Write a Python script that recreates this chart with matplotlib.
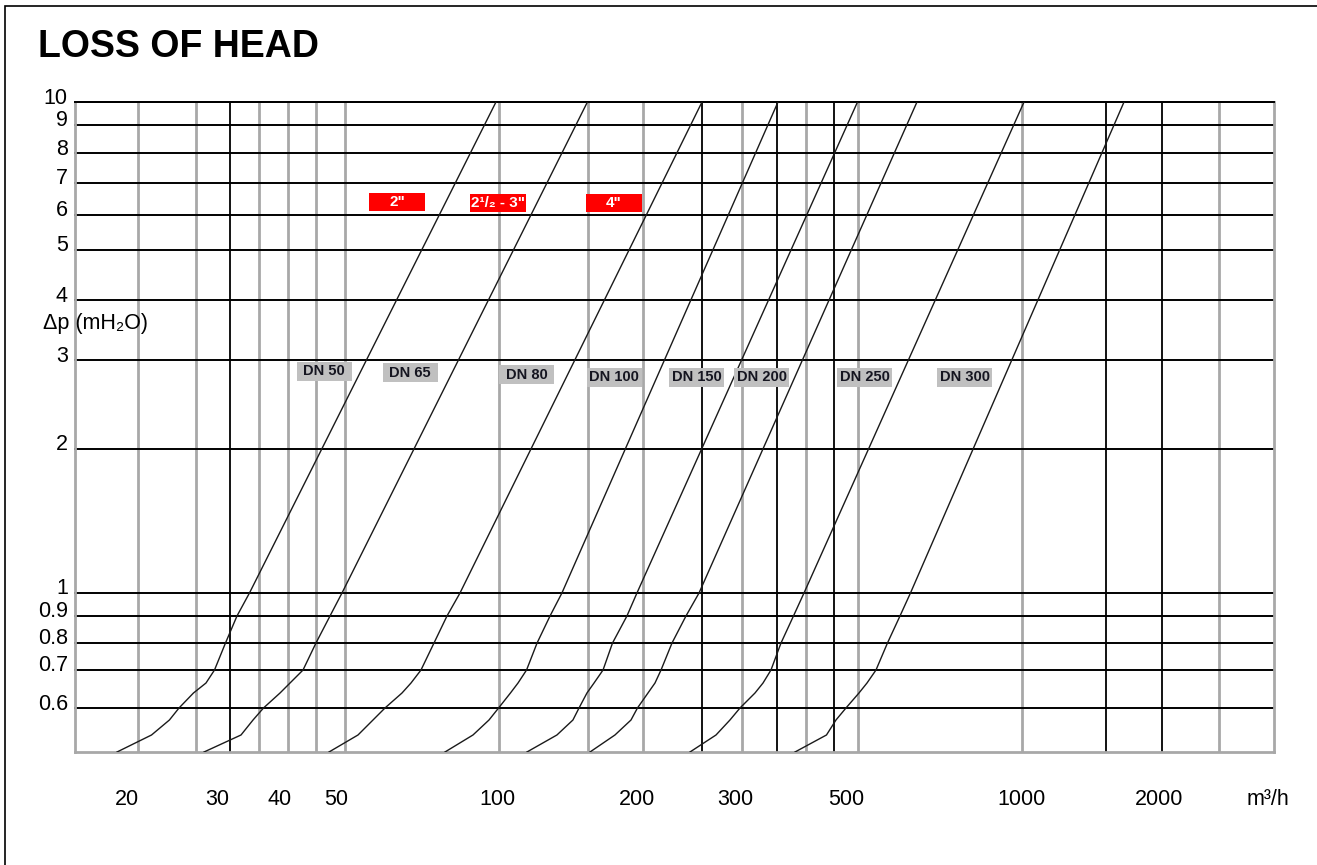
import matplotlib.pyplot as plt
import matplotlib.transforms as mtransforms
from matplotlib.patches import Rectangle
from matplotlib.ticker import NullLocator

# loss of head levels (mH2O) at which the curves were read
dp_levels = [0.4744, 0.5138, 0.5512, 0.5831, 0.6256, 0.6556, 0.6968, 0.7909, 0.8977, 1.0, 10.0]

# flow (m3/h) of each curve at those levels
q_dn50 = [18.77, 21.85, 23.64, 24.66, 26.28, 27.77, 28.83, 30.26, 31.83, 33.63, 99.56]
q_dn65 = [27.53, 32.40, 34.16, 35.77, 38.47, 40.20, 42.57, 45.07, 47.94, 50.54, 148.9]
q_dn80 = [47.73, 54.23, 57.93, 61.07, 65.82, 68.48, 71.56, 75.78, 80.24, 84.97, 246.6]
q_dn100 = [79.54, 89.97, 96.54, 100.7, 106.1, 109.7, 113.9, 119.3, 126.3, 133.1, 344.6]
q_dn150 = [114.1, 130.2, 139.7, 143.5, 148.6, 153.3, 159.5, 166.3, 177.2, 185.2, 489.0]
q_dn200 = [150.6, 168.1, 180.4, 185.6, 194.4, 200.5, 205.9, 216.1, 229.8, 243.4, 635.4]
q_dn250 = [233.9, 262.3, 278.9, 291.5, 311.4, 322.6, 334.1, 349.2, 368.9, 386.4, 1018.0]
q_dn300 = [371.4, 426.6, 444.8, 464.8, 492.2, 509.9, 530.5, 558.0, 589.6, 617.5, 1581.0]
curves = [q_dn50, q_dn65, q_dn80, q_dn100, q_dn150, q_dn200, q_dn250, q_dn300]

dn_labels = ["DN 50", "DN 65", "DN 80", "DN 100", "DN 150", "DN 200", "DN 250", "DN 300"]
dn_label_q = [46.7, 68.2, 114.1, 167.4, 241.2, 321.1, 505.3, 784.9]
dn_label_dp = [2.83, 2.81, 2.78, 2.75, 2.75, 2.75, 2.75, 2.75]

inch_labels = ['2"', '2¹/₂ - 3"', '4"']
inch_label_q = [64.4, 100.4, 167.4]
inch_label_dp = [6.26, 6.23, 6.23]

# grid of the nomogram (read from the drawing, not a clean log grid)
x_grid_light = [20.6, 26.6, 35.1, 39.8, 45.1, 51.2, 101, 149, 190, 294, 390, 490, 1009, 2400]
x_grid_dark = [30.9, 247, 343, 441, 1460, 1868]
y_grid = [10, 8.98, 7.87, 6.84, 5.89, 5.0, 3.95, 2.98, 1.965, 1.0, 0.898, 0.791, 0.697, 0.583]
y_labels = ["10", "9", "8", "7", "6", "5", "4", "3", "2", "1", "0.9", "0.8", "0.7", "0.6"]

x_labels = ["20", "30", "40", "50", "100", "200", "300", "500", "1000", "2000", "m³/h"]
x_label_at = [19.58, 29.15, 38.47, 49.22, 100, 185.2, 285.2, 464.8, 1008.8, 1844, 2980]

fonts = ["Liberation Sans", "DejaVu Sans"]

fig = plt.figure(figsize=(13.17, 8.65), dpi=100)
ax = fig.add_axes([75 / 1317, 113 / 865, 1199 / 1317, 650 / 865])
ax.set_xscale("log")
ax.set_yscale("log")
ax.set_xlim(15.6, 3060)
ax.set_ylim(0.4744, 10)
ax.xaxis.set_major_locator(NullLocator())
ax.xaxis.set_minor_locator(NullLocator())
ax.yaxis.set_major_locator(NullLocator())
ax.yaxis.set_minor_locator(NullLocator())

for s in ["left", "right", "bottom"]:
    ax.spines[s].set_color("#a8a8a8")
    ax.spines[s].set_linewidth(2.0)
ax.spines["top"].set_color("black")
ax.spines["top"].set_linewidth(1.4)

for v in x_grid_light:
    ax.axvline(v, color="#a8a8a8", lw=2.0, zorder=1)
for v in y_grid:
    ax.axhline(v, color="black", lw=1.4, zorder=2, clip_on=False)
for v in x_grid_dark:
    ax.axvline(v, color="black", lw=1.3, zorder=2)

for q in curves:
    ax.plot(q, dp_levels, color="#1a1a1a", lw=1.0, zorder=3)


def box_label(x, y, text, face, color, w, h, size):
    at = mtransforms.ScaledTranslation(x, y, ax.transData)
    rect = Rectangle((-w / 2, -h / 2), w, h, transform=mtransforms.Affine2D() + at,
                     facecolor=face, edgecolor="none", zorder=4, clip_on=False)
    ax.add_artist(rect)
    ax.text(x, y, text, ha="center", va="center", color=color, fontsize=size,
            fontweight="bold", family=fonts, zorder=5)


for q, d, t in zip(dn_label_q, dn_label_dp, dn_labels):
    box_label(q, d, t, "#c0c0c0", "#151520", 55, 19, 10.5)
for q, d, t in zip(inch_label_q, inch_label_dp, inch_labels):
    box_label(q, d, t, "#ff0000", "white", 56, 18, 11)

# axis texts
up = mtransforms.ScaledTranslation(0, 4 / 100, fig.dpi_scale_trans)
for v, t in zip(y_grid, y_labels):
    ax.text(-0.006, v, t, transform=ax.get_yaxis_transform() + up,
            ha="right", va="center", fontsize=15.5, family=fonts)
for v, t in zip(x_label_at, x_labels):
    ax.text(v, -0.0738, t, transform=ax.get_xaxis_transform(),
            ha="center", va="center", fontsize=15.5, family=fonts)

fig.text(43 / 1317, 1 - 323 / 865, "Δp (mH₂O)", ha="left", va="center",
         fontsize=15.5, family=fonts)
fig.text(38 / 1317, 1 - 57 / 865, "LOSS OF HEAD", ha="left", va="baseline",
         fontsize=27, fontweight="bold", family=fonts)

# frame round the sheet
fig.add_artist(Rectangle((5 / 1317, -0.05), 1.2, (865 - 6) / 865 + 0.05,
                         transform=fig.transFigure, fill=False, edgecolor="black", lw=1.2))

fig.savefig("out.png", dpi=100)
